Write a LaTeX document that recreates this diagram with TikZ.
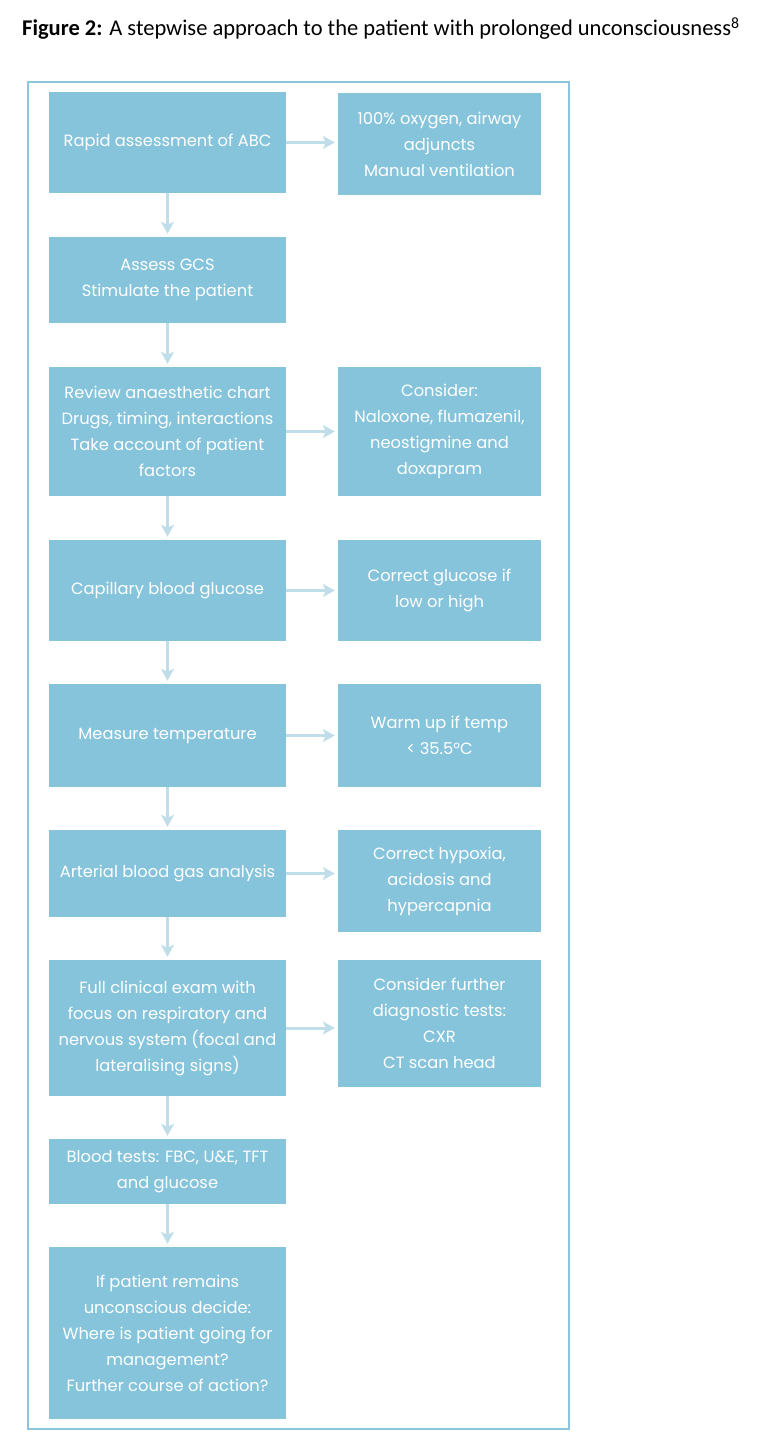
\documentclass[tikz,border=0pt]{standalone}
\usepackage{fontspec}
\setmainfont{Poppins}
\newfontfamily\titlefont{Carlito}
\usetikzlibrary{arrows.meta}
\definecolor{boxblue}{HTML}{86C4DC}
\definecolor{arrowblue}{HTML}{C0DEEA}
\definecolor{frameblue}{HTML}{8DC6DC}
\begin{document}
\begin{tikzpicture}[x=1pt,y=-1pt,
  flowbox/.style={fill=boxblue, draw=none, inner sep=0pt, text=white, align=center,
    font=\fontsize{16.3}{26}\selectfont},
  leftbox/.style={flowbox, minimum width=237pt},
  rightbox/.style={flowbox, minimum width=203pt},
  flowarrow/.style={draw=arrowblue, line width=3pt,
    -{Stealth[length=12pt,width=13pt,inset=3pt]}, shorten >=3pt}]
\useasboundingbox (0,0) rectangle (780,1455);
\node[anchor=base west, inner sep=0pt] (title) at (22,36)
  {\titlefont\fontsize{22.5}{26}\selectfont\textbf{Figure 2:} A stepwise approach to the patient with prolonged unconsciousness\textsuperscript{8}};
\draw[frameblue, line width=1.5pt] (28,82) rectangle (569,1429);

\node[leftbox, minimum height=101pt] (l1) at (167.5,142.5) {Rapid assessment of ABC};
\node[rightbox, minimum height=102pt] (r1) at (439.5,144) {100\% oxygen, airway\\adjuncts\\Manual ventilation};
\node[leftbox, minimum height=86pt] (l2) at (167.5,280) {Assess GCS\\Stimulate the patient};
\node[leftbox, minimum height=129pt] (l3) at (167.5,431.5) {Review anaesthetic chart\\Drugs, timing, interactions\\Take account of patient\\factors};
\node[rightbox, minimum height=129pt] (r3) at (439.5,431.5) {Consider:\\Naloxone, flumazenil,\\neostigmine and\\doxapram};
\node[leftbox, minimum height=101pt] (l4) at (167.5,590.5) {Capillary blood glucose};
\node[rightbox, minimum height=101pt] (r4) at (439.5,590.5) {Correct glucose if\\low or high};
\node[leftbox, minimum height=103pt] (l5) at (167.5,735.5) {Measure temperature};
\node[rightbox, minimum height=103pt] (r5) at (439.5,735.5) {Warm up if temp\\< 35.5°C};
\node[leftbox, minimum height=87pt] (l6) at (167.5,873.5) {Arterial blood gas analysis};
\node[rightbox, minimum height=102pt] (r6) at (439.5,881) {Correct hypoxia,\\acidosis and\\hypercapnia};
\node[leftbox, minimum height=136pt] (l7) at (167.5,1028) {Full clinical exam with\\focus on respiratory and\\nervous system (focal and\\lateralising signs)};
\node[rightbox, minimum height=127pt] (r7) at (439.5,1023.5) {Consider further\\diagnostic tests:\\CXR\\CT scan head};
\node[leftbox, minimum height=65pt] (l8) at (167.5,1171.5) {Blood tests: FBC, U\&E, TFT\\and glucose};
\node[leftbox, minimum height=172pt] (l9) at (167.5,1333) {If patient remains\\unconscious decide:\\Where is patient going for\\management?\\Further course of action?};

\foreach \a/\b in {l1/l2, l2/l3, l3/l4, l4/l5, l5/l6, l6/l7, l7/l8, l8/l9}
  \draw[flowarrow] (\a.south) -- (\b.north);
\foreach \a/\b in {l1/r1, l3/r3, l4/r4, l5/r5, l6/r6, l7/r7}
  \draw[flowarrow] (\a.east) -- (\a.east -| \b.west);
\end{tikzpicture}
\end{document}
